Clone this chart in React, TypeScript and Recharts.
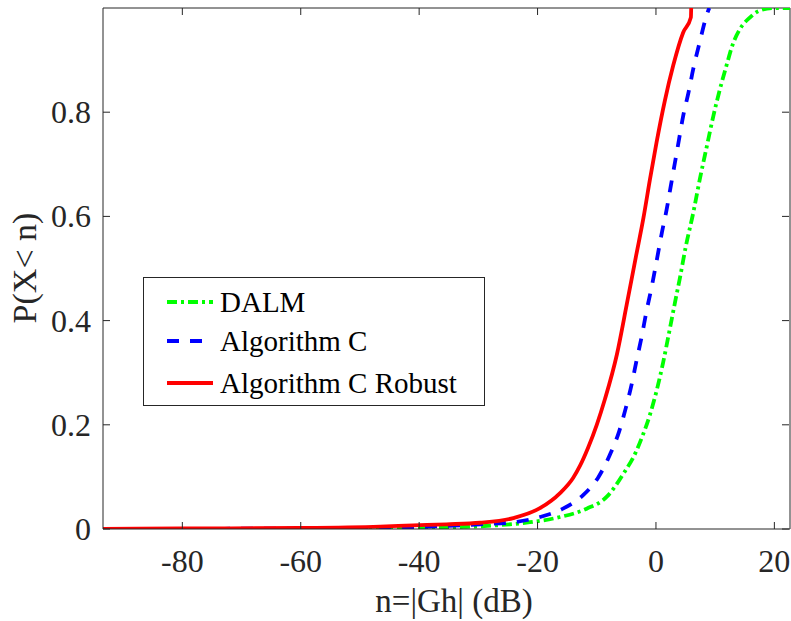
import React from 'react';
import { LineChart, Line, XAxis, YAxis, ReferenceLine, Legend } from 'recharts';

// CDF samples (x in dB, y = probability)
const dalmX = [-93.4, -60, -40, -32.5, -26.9, -21.3, -16.2, -11.7, -8.3, -5.5, -3.3, -2.4, -1.0, 0.1, 1.2, 2.2, 3.2, 4.1, 5.0, 6.3, 7.4, 8.6, 9.7, 10.8, 11.9, 12.9, 14.2, 15.9, 17.3, 19.8, 22.64];
const dalmY = [0, 0.0005, 0.002, 0.004, 0.007, 0.013, 0.023, 0.039, 0.062, 0.106, 0.15, 0.175, 0.22, 0.265, 0.319, 0.376, 0.434, 0.485, 0.54, 0.607, 0.671, 0.735, 0.793, 0.844, 0.889, 0.928, 0.96, 0.982, 0.994, 1.0, 1.0];

const algCX = [-93.4, -60, -40, -29.7, -24.1, -19.6, -15.7, -12.3, -9.7, -7.8, -6.2, -5.1, -4.1, -3.3, -2.4, -1.6, -0.7, 0.2, 1.0, 1.8, 2.5, 3.2, 3.9, 4.6, 5.5, 6.3, 7.4, 8.7, 9.0];
const algCY = [0, 0.001, 0.004, 0.009, 0.013, 0.023, 0.039, 0.065, 0.1, 0.142, 0.188, 0.232, 0.278, 0.322, 0.37, 0.418, 0.466, 0.52, 0.569, 0.613, 0.658, 0.703, 0.748, 0.793, 0.838, 0.883, 0.935, 0.991, 1.0];

const robustX = [-93.4, -80, -60, -46.6, -41, -35.4, -29.7, -24.1, -19.6, -16.2, -14.0, -12.8, -11.5, -10.0, -8.6, -6.6, -4.95, -3.4, -2.1, -1.0, 0.1, 1.5, 2.9, 4.6, 5.9, 5.95];
const robustY = [0, 0.001, 0.002, 0.0045, 0.007, 0.009, 0.012, 0.021, 0.04, 0.069, 0.098, 0.122, 0.155, 0.2, 0.25, 0.335, 0.43, 0.522, 0.598, 0.672, 0.742, 0.822, 0.889, 0.953, 0.982, 1.0];

const xTicks = [-80, -60, -40, -20, 0, 20];
const yTicks = [0, 0.2, 0.4, 0.6, 0.8];

const toPoints = (xs: number[], ys: number[]) => xs.map((x, i) => ({ x, y: ys[i] }));

const series = [
  { name: 'DALM', data: toPoints(dalmX, dalmY), color: '#00ff00', dash: '10 4 3 4', width: 3.8 },
  { name: 'Algorithm C', data: toPoints(algCX, algCY), color: '#0000ff', dash: '12 11', width: 3.8 },
  { name: 'Algorithm C Robust', data: toPoints(robustX, robustY), color: '#ff0000', dash: undefined, width: 3.8 },
];

const FONT = "'Liberation Serif', 'Times New Roman', serif";
const AXIS = '#262626';
const PLOT_TOP = 8;
const PLOT_BOTTOM = 529;
const PLOT_LEFT = 103;
const PLOT_RIGHT = 790;
const TICK_LEN = 7;

const XTick = (props: any) => {
  const { x, payload } = props;
  return (
    <g>
      <line x1={x} x2={x} y1={PLOT_BOTTOM} y2={PLOT_BOTTOM - TICK_LEN} stroke={AXIS} />
      <line x1={x} x2={x} y1={PLOT_TOP} y2={PLOT_TOP + TICK_LEN} stroke={AXIS} />
      <text x={x} y={572} textAnchor="middle" fontSize={32} fontFamily={FONT} fill={AXIS}>
        {String(payload.value)}
      </text>
    </g>
  );
};

const YTick = (props: any) => {
  const { y, payload } = props;
  return (
    <g>
      <line x1={PLOT_LEFT} x2={PLOT_LEFT + TICK_LEN} y1={y} y2={y} stroke={AXIS} />
      <line x1={PLOT_RIGHT - 1} x2={PLOT_RIGHT - 1 - TICK_LEN} y1={y} y2={y} stroke={AXIS} />
      <text x={91} y={y + 11} textAnchor="end" fontSize={32} fontFamily={FONT} fill={AXIS}>
        {String(payload.value)}
      </text>
    </g>
  );
};

const LegendBox = () => {
  const rows = [25, 64, 106];
  return (
    <svg width={342} height={129} style={{ display: 'block' }}>
      <rect x={0.5} y={0.5} width={341} height={128} fill="#ffffff" stroke={AXIS} strokeWidth={1} />
      {series.map((s, i) => (
        <g key={s.name}>
          <line x1={24} x2={70} y1={rows[i]} y2={rows[i]} stroke={s.color} strokeWidth={s.width} strokeDasharray={s.dash} />
          <text x={77} y={rows[i] + 10} fontSize={29} fontFamily={FONT} fill="#000000">
            {s.name}
          </text>
        </g>
      ))}
    </svg>
  );
};

export default function App() {
  return (
    <div style={{ position: 'absolute', left: 0, top: 0, width: 791, height: 621, background: '#ffffff' }}>
      <LineChart width={791} height={621} margin={{ top: PLOT_TOP, right: 1, bottom: 0, left: 0 }}>
        <XAxis
          type="number"
          dataKey="x"
          domain={[-93.4, 22.64]}
          allowDataOverflow
          ticks={xTicks}
          height={92}
          tick={<XTick />}
          tickLine={false}
          axisLine={{ stroke: AXIS }}
          label={{
            content: () => (
              <text x={454} y={612} textAnchor="middle" fontSize={33} fontFamily={FONT} fill={AXIS}>
                n=|Gh| (dB)
              </text>
            ),
          }}
        />
        <YAxis
          type="number"
          dataKey="y"
          domain={[0, 1]}
          allowDataOverflow
          ticks={yTicks}
          width={103}
          tick={<YTick />}
          tickLine={false}
          axisLine={{ stroke: AXIS }}
          label={{
            content: () => (
              <text x={36} y={268} textAnchor="middle" fontSize={34} fontFamily={FONT} fill={AXIS} transform="rotate(-90 36 268)">
                P(X&lt; n)
              </text>
            ),
          }}
        />
        <ReferenceLine y={1} stroke={AXIS} ifOverflow="visible" />
        <ReferenceLine x={22.64} stroke={AXIS} ifOverflow="visible" />
        {series.map(s => (
          <Line
            key={s.name}
            data={s.data}
            dataKey="y"
            name={s.name}
            type="monotone"
            stroke={s.color}
            strokeWidth={s.width}
            strokeDasharray={s.dash}
            dot={false}
            activeDot={false}
            isAnimationActive={false}
          />
        ))}
        <Legend
          layout="vertical"
          align="center"
          verticalAlign="middle"
          content={() => <LegendBox />}
          wrapperStyle={{ left: 143, top: 277, width: 342, height: 129 }}
        />
      </LineChart>
    </div>
  );
}
